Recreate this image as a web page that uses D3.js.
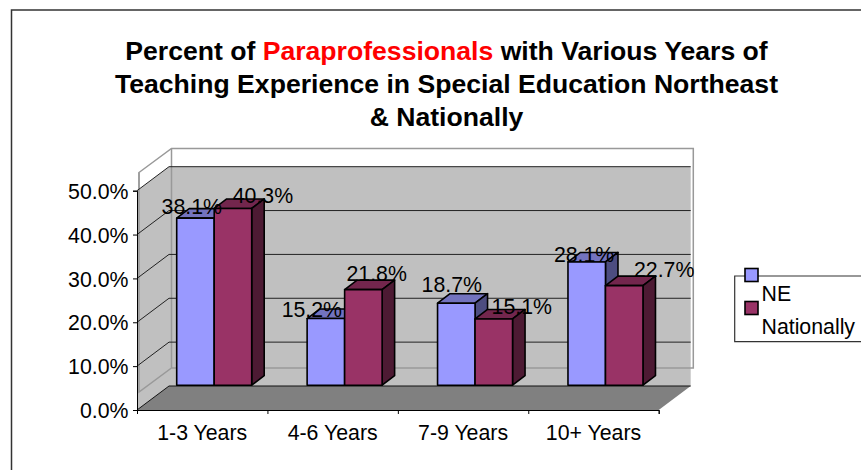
<!DOCTYPE html>
<html><head><meta charset="utf-8">
<script src="https://cdn.jsdelivr.net/npm/d3@7/dist/d3.min.js"></script>
<style>html,body{margin:0;padding:0;background:#fff}svg{display:block}text{font-family:"Liberation Sans",Arial,sans-serif;fill:#000}</style>
</head><body><svg id="c" width="861" height="470"></svg>
<script>
const categories = ["1-3 Years","4-6 Years","7-9 Years","10+ Years"];
const seriesNames = ["NE","Nationally"];
const neValues = [38.1,15.2,18.7,28.1];
const nationalValues = [40.3,21.8,15.1,22.7];
const yTicks = [0,10,20,30,40,50];
const faceColors = ["#9999FF","#993366"];
const topColors = ["#7373BF","#73264D"];
const sideColors = ["#4D4D80","#4D1A33"];
// hand-placed data-label nudges of the original, [dx, dy] from bar top centre
const labelNudges = [[[-3.7,-4],[30,-5.4]],[[-14,-1.8],[13.3,-9]],[[-4.5,-11.5],[28,-5]],[[-2.6,0],[40,-9]]];

const svg = d3.select("#c");
const m = {l:137,r:658.7,b:410,t:190.7};
const depth = {x:32,y:24};
const barDepth = {x:12.5,y:9.5};
const y = d3.scaleLinear().domain([0,50]).range([m.b,m.t]);
const x = d3.scaleBand().domain(categories).range([m.l,m.r]);
const barW = 37.5, groupInset = 39.7, barBase = 385.2, fs = 21.3;
const pts = a => a.map(p=>p.join(",")).join(" ");

// outer frame
svg.append("path").attr("d","M11.5,470V10H861").attr("fill","none").attr("stroke","#333").attr("stroke-width",1.5);

// title
const title = svg.append("text").attr("font-size",26.6).attr("font-weight","bold").attr("text-anchor","middle");
const t1 = title.append("tspan").attr("x",446.5).attr("y",60);
t1.append("tspan").text("Percent of ");
t1.append("tspan").text("Paraprofessionals").style("fill","#FF0000");
t1.append("tspan").text(" with Various Years of");
title.append("tspan").attr("x",446.5).attr("y",93).text("Teaching Experience in Special Education Northeast");
title.append("tspan").attr("x",446.5).attr("y",126).text("& Nationally");

// white plot panel with grey edge
const pan = {x0:139,x1:693.3,top:148.5,bot:368};
svg.append("polygon").attr("points",pts([[pan.x0,pan.top+24],[pan.x0+32.5,pan.top],[pan.x1,pan.top],[pan.x1,pan.bot],[pan.x0+32.5,pan.bot],[pan.x0,pan.bot+24]]))
  .attr("fill","#fff").attr("stroke","#999").attr("stroke-width",1.5);

// walls
const bx0 = m.l+depth.x, bx1 = m.r+depth.x;
svg.append("polygon").attr("points",pts([[bx0,y(50)-depth.y],[bx1,y(50)-depth.y],[bx1,y(0)-depth.y],[bx0,y(0)-depth.y]])).attr("fill","#C0C0C0");
svg.append("polygon").attr("points",pts([[m.l,y(50)],[bx0,y(50)-depth.y],[bx0,y(0)-depth.y],[m.l,y(0)]])).attr("fill","#C0C0C0");
// grey edges visible over the walls
svg.append("path").attr("d",`M${pan.x0},${pan.top+24}V${pan.bot+24}L${pan.x0+32.5},${pan.bot}H${bx1}M${pan.x0+32.5},${pan.top}V${pan.bot}`).attr("fill","none").attr("stroke","#999").attr("stroke-width",1.5);

// gridlines
yTicks.forEach(v=>{
  if(v===0) return;
  svg.append("path").attr("d",`M${m.l},${y(v)}L${bx0},${y(v)-depth.y}H${bx1}`).attr("fill","none").attr("stroke","#222").attr("stroke-width",1);
});
// floor
svg.append("polygon").attr("points",pts([[m.l,y(0)],[bx0,y(0)-depth.y],[bx1,y(0)-depth.y],[m.r,y(0)]])).attr("fill","#808080");
svg.append("path").attr("d",`M${m.l},${y(0)}L${bx0},${y(0)-depth.y}H${bx1}`).attr("fill","none").attr("stroke","#111");

// axes
const yAxis = d3.axisLeft(y).tickValues(yTicks).tickFormat(d=>d.toFixed(1)+"%").tickSize(4).tickPadding(4.5);
const gy = svg.append("g").attr("transform",`translate(${m.l},0)`).call(yAxis);
gy.selectAll("text").attr("font-size",fs).attr("dy","0.36em").style("font-family",'"Liberation Sans",Arial,sans-serif');
gy.selectAll("line,path").attr("stroke","#000");
const xAxis = d3.axisBottom(d3.scaleLinear().domain([0,4]).range([m.l,m.r])).ticks(4).tickFormat("").tickSize(4).tickSizeOuter(4);
const gx = svg.append("g").attr("transform",`translate(0,${m.b})`).call(xAxis);
gx.selectAll("line,path").attr("stroke","#000");
svg.append("g").selectAll("text").data(categories).join("text")
  .attr("x",d=>x(d)+x.bandwidth()/2).attr("y",440).attr("text-anchor","middle").attr("font-size",fs).text(d=>d);

// bars
const scaleH = v => m.b - y(v);
[neValues,nationalValues].forEach((vals,s)=>{
  vals.forEach((v,i)=>{
    const x0 = x(categories[i])+groupInset+s*barW, x1=x0+barW, top=barBase-scaleH(v);
    const g = svg.append("g").attr("stroke","#000").attr("stroke-width",1.6).attr("stroke-linejoin","round");
    g.append("polygon").attr("points",pts([[x0,top],[x0+barDepth.x,top-barDepth.y],[x1+barDepth.x,top-barDepth.y],[x1,top]])).attr("fill",topColors[s]);
    g.append("polygon").attr("points",pts([[x1,top],[x1+barDepth.x,top-barDepth.y],[x1+barDepth.x,barBase-barDepth.y],[x1,barBase]])).attr("fill",sideColors[s]);
    g.append("rect").attr("x",x0).attr("y",top).attr("width",barW).attr("height",barBase-top).attr("fill",faceColors[s]);
  });
});
// data labels
[neValues,nationalValues].forEach((vals,s)=>{
  vals.forEach((v,i)=>{
    const cx = x(categories[i])+groupInset+s*barW+barW/2, top=barBase-scaleH(v), n=labelNudges[i][s];
    svg.append("text").attr("x",cx+n[0]).attr("y",top+n[1]).attr("text-anchor","middle").attr("font-size",fs).text(v.toFixed(1)+"%");
  });
});

// legend
svg.append("path").attr("d","M861,276H734.7V341.7H861").attr("fill","#fff").attr("stroke","#333").attr("stroke-width",1.2);
seriesNames.forEach((n,i)=>{
  svg.append("rect").attr("x",745).attr("y",268.5+i*33).attr("width",13).attr("height",13).attr("fill",faceColors[i]).attr("stroke","#000").attr("stroke-width",1.6);
  svg.append("text").attr("x",761.5).attr("y",301+i*33).attr("font-size",fs).text(n);
});
</script></body></html>
